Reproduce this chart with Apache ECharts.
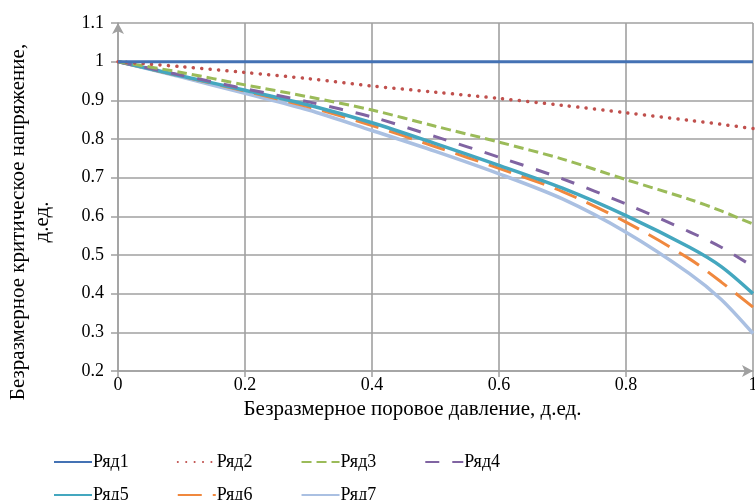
<!DOCTYPE html>
<html><head><meta charset="utf-8">
<script src="https://cdn.jsdelivr.net/npm/echarts@6/dist/echarts.min.js"></script>
<style>html,body{margin:0;padding:0;background:#fff}#c{width:755px;height:500px}</style>
</head><body><div id="c"></div>
<script>
var xValues = [0, 0.1, 0.2, 0.3, 0.4, 0.5, 0.6, 0.7, 0.8, 0.9, 0.95, 1];
var seriesNames = ['Ряд1','Ряд2','Ряд3','Ряд4','Ряд5','Ряд6','Ряд7'];
var s1 = [1, 1, 1, 1, 1, 1, 1, 1, 1, 1, 1, 1];
var s2 = [1, 0.987, 0.972, 0.956, 0.937, 0.921, 0.905, 0.887, 0.868, 0.848, 0.838, 0.827];
var s3 = [1, 0.972, 0.94, 0.909, 0.875, 0.833, 0.792, 0.748, 0.695, 0.644, 0.614, 0.58];
var s4 = [1, 0.965, 0.93, 0.896, 0.857, 0.806, 0.753, 0.697, 0.632, 0.56, 0.52, 0.47];
var s5 = [1, 0.963, 0.926, 0.888, 0.842, 0.788, 0.732, 0.673, 0.602, 0.52, 0.47, 0.40];
var s6 = [1, 0.962, 0.924, 0.883, 0.835, 0.78, 0.724, 0.664, 0.585, 0.49, 0.43, 0.365];
var s7 = [1, 0.96, 0.918, 0.875, 0.822, 0.768, 0.71, 0.645, 0.559, 0.452, 0.385, 0.297];
var xTitle = 'Безразмерное поровое давление, д.ед.';
var yTitle = 'Безразмерное критическое напряжение,\nд.ед.';

var allData = [s1, s2, s3, s4, s5, s6, s7];
var colors = ['#4472b4', '#c0504d', '#9bbb59', '#8064a2', '#44a7bf', '#f0883e', '#aac0e2'];
var styles = [
  {width: 3, type: 'solid'},
  {width: 3.5, type: [0.1, 8.3], cap: 'round'},
  {width: 3, type: [10, 5]},
  {width: 3, type: [14, 13]},
  {width: 3.5, type: 'solid'},
  {width: 3, type: [24, 11]},
  {width: 3.5, type: 'solid'}
];
function pairs(arr){ return xValues.map(function(x,i){ return [x, arr[i]]; }); }
var font = '"Liberation Serif", "Times New Roman", serif';
var series = seriesNames.map(function(n, i){
  return {
    name: n, type: 'line', data: pairs(allData[i]), smooth: 0.3,
    symbol: 'none', showSymbol: false, z: 10 - i,
    lineStyle: Object.assign({color: colors[i]}, styles[i]),
    itemStyle: {color: colors[i]}
  };
});
var legendBase = {
  orient: 'horizontal', itemWidth: 38, itemHeight: 14, itemGap: 48,
  itemStyle: {opacity: 0},
  textStyle: {fontFamily: font, fontSize: 18, color: '#000', padding: [0,0,0,-4]}
};
var chart = echarts.init(document.getElementById('c'), null, {renderer: 'canvas'});
chart.setOption({
  animation: false,
  backgroundColor: '#fff',
  color: colors,
  grid: {left: 118, right: 2, top: 23, bottom: 129, containLabel: false, outerBoundsMode: 'none'},
  legend: [
    Object.assign({}, legendBase, {data: ['Ряд1','Ряд2','Ряд3','Ряд4'], left: 48, top: 448}),
    Object.assign({}, legendBase, {data: ['Ряд5','Ряд6','Ряд7'], left: 48, top: 481})
  ],
  xAxis: {
    type: 'value', min: 0, max: 1, interval: 0.2,
    name: xTitle, nameLocation: 'middle', nameGap: 20,
    nameTextStyle: {fontFamily: font, fontSize: 21, color: '#000', padding: [0, 46, 0, 0]},
    axisLine: {show: true, lineStyle: {color: '#a0a0a0', width: 1.5}, symbol: ['none', 'arrow'], symbolSize: [9, 11], symbolOffset: [0, 0]},
    axisTick: {show: true, length: 6, lineStyle: {color: '#a0a0a0', width: 1.5}},
    axisLabel: {fontFamily: font, fontSize: 18, color: '#000', margin: 5},
    splitLine: {show: true, lineStyle: {color: '#a0a0a0', width: 1.6}}
  },
  yAxis: {
    type: 'value', min: 0.2, max: 1.1, interval: 0.1,
    name: yTitle, nameLocation: 'middle', nameGap: 64,
    nameTextStyle: {fontFamily: font, fontSize: 21, color: '#000', lineHeight: 24, align: 'center', padding: [0, 50, 0, 0]},
    axisLine: {show: true, lineStyle: {color: '#a0a0a0', width: 1.5}, symbol: ['none', 'arrow'], symbolSize: [9, 11], symbolOffset: [0, 0]},
    axisTick: {show: true, length: 7, lineStyle: {color: '#a0a0a0', width: 1.5}},
    axisLabel: {fontFamily: font, fontSize: 18, color: '#000', margin: 14},
    splitLine: {show: true, lineStyle: {color: '#a0a0a0', width: 1.6}}
  },
  series: series
});
</script></body></html>
